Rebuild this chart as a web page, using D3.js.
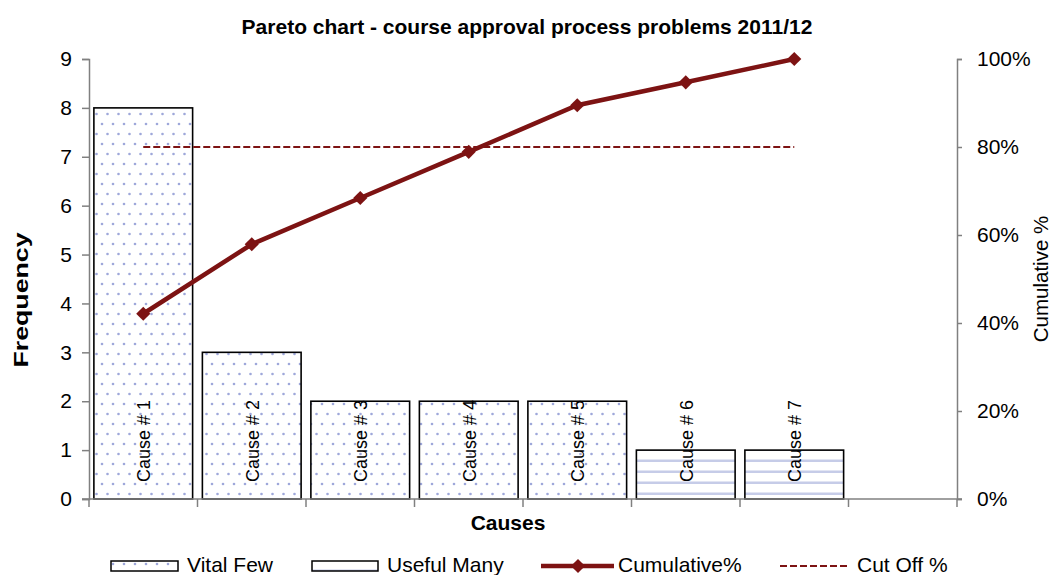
<!DOCTYPE html>
<html>
<head>
<meta charset="utf-8">
<script src="https://cdn.jsdelivr.net/npm/d3@7"></script>
<style>
  body { margin: 0; background: #fff; }
  text { font-family: "Liberation Sans", Arial, sans-serif; }
</style>
</head>
<body>
<div id="chart"></div>
<script>
// chart data
const causes = ["Cause # 1", "Cause # 2", "Cause # 3", "Cause # 4", "Cause # 5", "Cause # 6", "Cause # 7", ""];
const frequency = [8, 3, 2, 2, 2, 1, 1];
const group = ["vital", "vital", "vital", "vital", "vital", "useful", "useful"];
const cumulative = [42.1, 57.9, 68.4, 78.9, 89.5, 94.7, 100];
const cutOff = 80;
const freqTicks = [0, 1, 2, 3, 4, 5, 6, 7, 8, 9];
const pctTicks = [0, 20, 40, 60, 80, 100];

const width = 1052, height = 575;
const margin = {left: 89, right: 95, top: 59, bottom: 76};
const lineColor = "#7d1313";
const fs = 21;

const svg = d3.select("#chart").append("svg")
    .attr("width", width).attr("height", height);

const defs = svg.append("defs");
let dots = defs.append("pattern").attr("id", "dots")
    .attr("patternUnits", "userSpaceOnUse")
    .attr("width", 11).attr("height", 20);
dots.append("rect").attr("width", 11).attr("height", 20).attr("fill", "#fff");
dots.append("circle").attr("cx", 3).attr("cy", 4).attr("r", 1.3).attr("fill", "#9ea7da");
dots.append("circle").attr("cx", 8.5).attr("cy", 14).attr("r", 1.3).attr("fill", "#9ea7da");

let stripes = defs.append("pattern").attr("id", "stripes")
    .attr("patternUnits", "userSpaceOnUse")
    .attr("width", 11).attr("height", 11);
stripes.append("rect").attr("width", 11).attr("height", 11).attr("fill", "#fff");
stripes.append("rect").attr("y", 8.5).attr("width", 11).attr("height", 3).attr("fill", "#c6cce8");

const x = d3.scaleBand().domain(causes.map((c, i) => i))
    .range([margin.left, width - margin.right])
    .paddingInner(0.09).paddingOuter(0.045);
const y = d3.scaleLinear().domain([0, 9]).range([height - margin.bottom, margin.top]);
const y2 = d3.scaleLinear().domain([0, 100]).range([height - margin.bottom, margin.top]);

// bars
svg.selectAll("rect.bar").data(frequency).join("rect")
    .attr("class", "bar")
    .attr("x", (d, i) => x(i))
    .attr("y", d => y(d))
    .attr("width", x.bandwidth())
    .attr("height", d => y(0) - y(d))
    .attr("fill", (d, i) => group[i] === "vital" ? "url(#dots)" : "url(#stripes)")
    .attr("stroke", "#000")
    .attr("stroke-width", 1.6);

// axes
const axisColor = "#808080";
const left = svg.append("g").attr("transform", `translate(${margin.left},0)`)
    .call(d3.axisLeft(y).tickValues(freqTicks).tickSize(7).tickFormat(d3.format("d")));
const right = svg.append("g").attr("transform", `translate(${width - margin.right},0)`)
    .call(d3.axisRight(y2).tickValues(pctTicks).tickSize(5).tickFormat(d => d + "%"));
const bottom = svg.append("g").attr("transform", `translate(0,${y(0)})`)
    .call(d3.axisBottom(x).tickSize(0).tickFormat(""));
[left, right, bottom].forEach(g => {
  g.select(".domain").attr("stroke", axisColor).attr("stroke-width", 1.5);
  g.selectAll(".tick line").attr("stroke", axisColor).attr("stroke-width", 1.5);
  g.selectAll(".tick text").attr("fill", "#000").attr("font-size", fs)
    .attr("font-family", "Liberation Sans, Arial, sans-serif");
});
left.selectAll(".tick text").attr("x", -17);
right.selectAll(".tick text").attr("x", 20);
bottom.select(".domain").attr("d", `M${margin.left - 7},0H${width - margin.right + 5}`);

// category boundary ticks
const edges = causes.map((c, i) => x(i) - x.step() * x.paddingInner() / 2);
edges.push(width - margin.right);
svg.selectAll("line.edge").data(edges).join("line")
    .attr("class", "edge")
    .attr("x1", d => d).attr("x2", d => d)
    .attr("y1", y(0)).attr("y2", y(0) + 8)
    .attr("stroke", axisColor).attr("stroke-width", 1.5);

// cause labels inside bars
svg.selectAll("text.cause").data(frequency).join("text")
    .attr("class", "cause")
    .attr("transform", (d, i) => `translate(${x(i) + x.bandwidth() / 2 + 7},${y(0) - 58}) rotate(-90)`)
    .attr("text-anchor", "middle")
    .attr("font-size", 18)
    .text((d, i) => causes[i]);

// cut off line
const cx = i => x(i) + x.bandwidth() / 2;
svg.append("line")
    .attr("x1", cx(0)).attr("x2", cx(frequency.length - 1))
    .attr("y1", y2(cutOff)).attr("y2", y2(cutOff))
    .attr("stroke", lineColor).attr("stroke-width", 2)
    .attr("stroke-dasharray", "7,3");

// cumulative line
const line = d3.line().x((d, i) => cx(i)).y(d => y2(d));
svg.append("path").datum(cumulative)
    .attr("d", line)
    .attr("fill", "none")
    .attr("stroke", lineColor)
    .attr("stroke-width", 4.5);
const diamond = d3.symbol().type(d3.symbolSquare).size(100);
svg.selectAll("path.marker").data(cumulative).join("path")
    .attr("class", "marker")
    .attr("d", diamond)
    .attr("transform", (d, i) => `translate(${cx(i)},${y2(d)}) rotate(45)`)
    .attr("fill", lineColor);

// titles
svg.append("text").attr("x", 527).attr("y", 34).attr("text-anchor", "middle")
    .attr("font-size", fs).attr("font-weight", "bold")
    .text("Pareto chart - course approval process problems 2011/12");
svg.append("text").attr("x", 508).attr("y", 530).attr("text-anchor", "middle")
    .attr("font-size", fs).attr("font-weight", "bold").text("Causes");
svg.append("text").attr("transform", "translate(28,300) rotate(-90)")
    .attr("text-anchor", "middle").attr("font-size", fs).attr("font-weight", "bold")
    .attr("textLength", 135).attr("lengthAdjust", "spacingAndGlyphs")
    .text("Frequency");
svg.append("text").attr("transform", "translate(1048,279) rotate(-90)")
    .attr("text-anchor", "middle").attr("font-size", 20.5)
    .text("Cumulative %");

// legend
const ly = 566;
const legend = svg.append("g");
legend.append("rect").attr("x", 111).attr("y", ly - 5).attr("width", 67).attr("height", 10)
    .attr("fill", "url(#dots)").attr("stroke", "#000").attr("stroke-width", 1.5);
legend.append("text").attr("x", 187).attr("y", ly + 6).attr("font-size", fs).text("Vital Few");
legend.append("rect").attr("x", 312).attr("y", ly - 5).attr("width", 66).attr("height", 10)
    .attr("fill", "url(#stripes)").attr("stroke", "#000").attr("stroke-width", 1.5);
legend.append("text").attr("x", 387).attr("y", ly + 6).attr("font-size", fs).text("Useful Many");
legend.append("line").attr("x1", 541).attr("x2", 614).attr("y1", ly).attr("y2", ly)
    .attr("stroke", lineColor).attr("stroke-width", 4.5);
legend.append("path").attr("d", diamond).attr("transform", `translate(578,${ly}) rotate(45)`).attr("fill", lineColor);
legend.append("text").attr("x", 618).attr("y", ly + 6).attr("font-size", fs).text("Cumulative%");
legend.append("line").attr("x1", 780).attr("x2", 850).attr("y1", ly).attr("y2", ly)
    .attr("stroke", lineColor).attr("stroke-width", 2).attr("stroke-dasharray", "7,3");
legend.append("text").attr("x", 857).attr("y", ly + 6).attr("font-size", fs).text("Cut Off %");
</script>
</body>
</html>
